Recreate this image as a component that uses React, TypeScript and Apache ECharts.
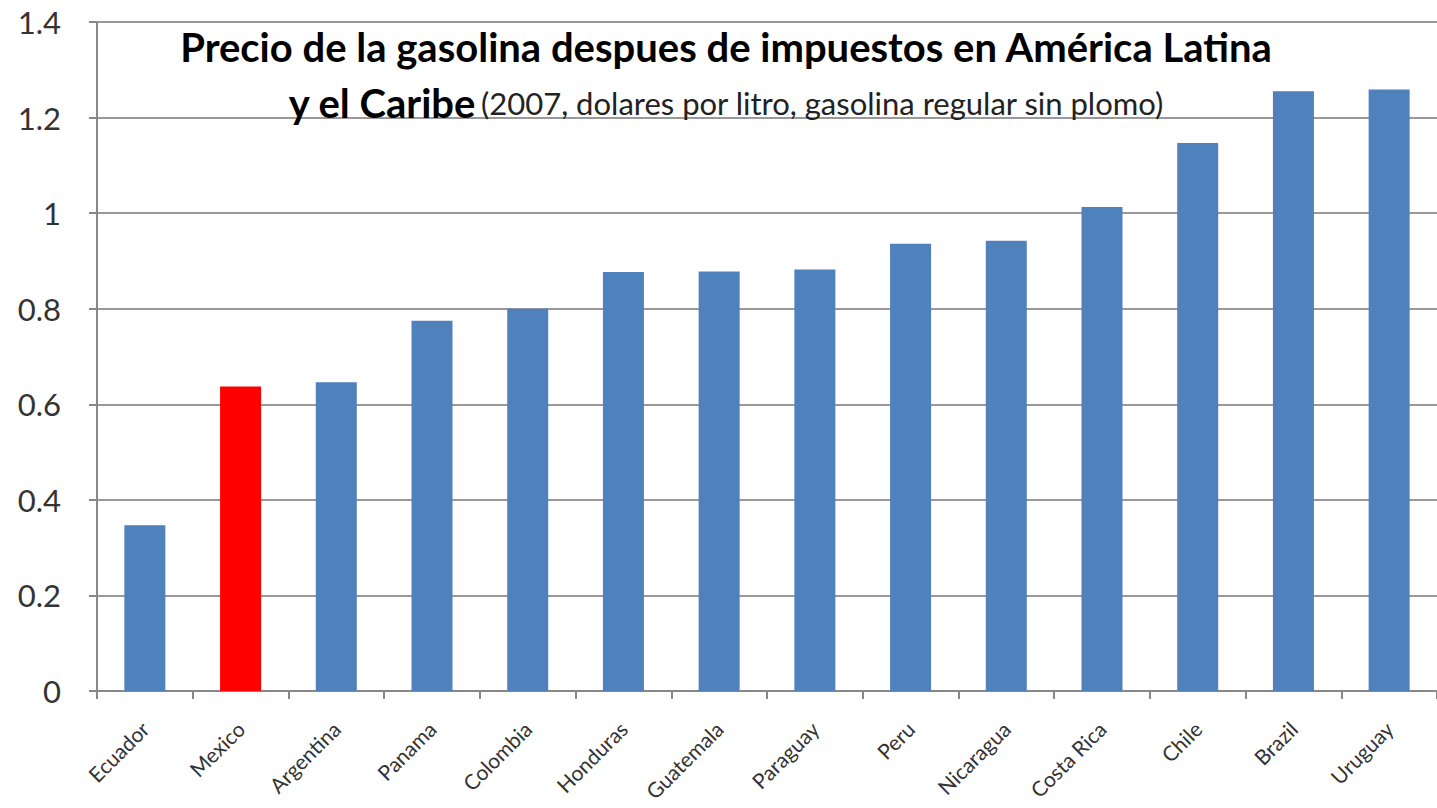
import React, { useEffect, useRef } from "react";
import * as echarts from "echarts";

const countries = [
    "Ecuador", "Mexico", "Argentina", "Panama", "Colombia", "Honduras", "Guatemala",
    "Paraguay", "Peru", "Nicaragua", "Costa Rica", "Chile", "Brazil", "Uruguay"
];
const prices = [0.347, 0.637, 0.646, 0.775, 0.8, 0.877, 0.878, 0.882, 0.936, 0.942, 1.013, 1.147, 1.255, 1.259];
const highlight = "Mexico";

const App: React.FC = () => {
    const chartRef = useRef<HTMLDivElement>(null);

    useEffect(() => {
        if (!chartRef.current) return;
        const chart = echarts.init(chartRef.current, undefined, { renderer: "svg" });

        chart.setOption({
            animation: false,
            textStyle: { fontFamily: "Lato" },
            title: {
                left: 721,
                top: 14,
                textAlign: "center",
                text: "{b|Precio de la gasolina despues de impuestos en América Latina}\n{b|y el Caribe} {n|(2007, dolares por litro, gasolina regular sin plomo)}",
                textStyle: {
                    rich: {
                        b: { fontFamily: "Lato", fontWeight: "bold", fontSize: 40, color: "#000", lineHeight: 56 },
                        n: { fontFamily: "Lato", fontWeight: "normal", fontSize: 31, color: "#222", lineHeight: 56 }
                    }
                }
            },
            grid: { left: 97, right: 0, top: 22, bottom: 117 },
            xAxis: {
                type: "category",
                data: countries,
                axisLine: { lineStyle: { color: "#888", width: 2 } },
                axisTick: { show: true, length: 8, lineStyle: { color: "#888", width: 2 } },
                axisLabel: { rotate: 45, fontSize: 21, color: "#333", margin: 34, interval: 0 }
            },
            yAxis: {
                type: "value",
                min: 0,
                max: 1.4,
                interval: 0.2,
                axisLine: { show: true, lineStyle: { color: "#888", width: 2 } },
                axisTick: { show: true, length: 8, lineStyle: { color: "#888", width: 2 } },
                axisLabel: {
                    fontSize: 31,
                    color: "#333",
                    margin: 36,
                    formatter: (v: number) => String(Math.round(v * 10) / 10)
                },
                splitLine: { lineStyle: { color: "#999", width: 2 } }
            },
            series: [
                {
                    type: "bar",
                    barWidth: 41,
                    data: prices.map((v, i) => ({
                        value: v,
                        itemStyle: { color: countries[i] === highlight ? "#FF0000" : "#4F81BD" }
                    }))
                }
            ]
        });

        return () => chart.dispose();
    }, []);

    return (
        <div
            ref={chartRef}
            style={{ position: "absolute", left: 0, top: 0, width: 1437, height: 808, background: "#fff" }}
        />
    );
};

export default App;
